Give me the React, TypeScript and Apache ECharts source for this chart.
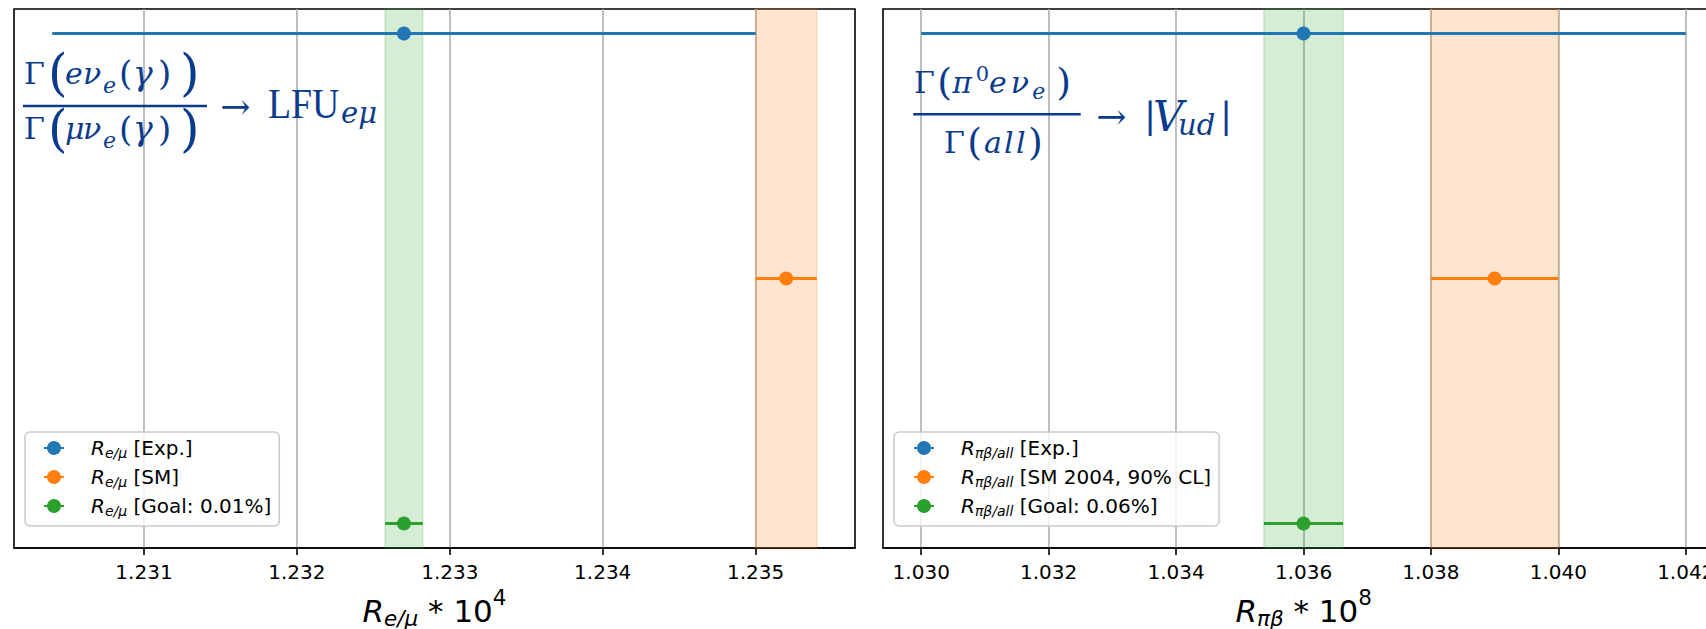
import React, { useEffect, useRef } from 'react';
import * as echarts from 'echarts';

// ---------- data ----------
const rowY = [2, 1, 0];
const seriesColors = ['#1f77b4', '#ff7f0e', '#2ca02c'];

const leftLabels = ['Exp.', 'SM', 'Goal: 0.01%'];
const leftCenters = [1.2327, 1.2352, 1.2327];
const leftErrors = [0.0023, 0.0002, 0.000123];
const leftTicks = [1.231, 1.232, 1.233, 1.234, 1.235];
const leftSub = 'e/μ';

const rightLabels = ['Exp.', 'SM 2004, 90% CL', 'Goal: 0.06%'];
const rightCenters = [1.036, 1.039, 1.036];
const rightErrors = [0.006, 0.001, 0.000622];
const rightTicks = [1.03, 1.032, 1.034, 1.036, 1.038, 1.04, 1.042];
const rightSub = 'πβ/all';

// series whose error range is shaded as a vertical band
const bandIndices = [1, 2];

// ---------- formula glyphs (text annotations) ----------
type Glyph = [string, string, number];
const leftNum: Glyph[] = [['Γ', 'up', 24], ['(', 'big', 17], ['e', 'it', 18], ['ν', 'it', 20], ['e', 'sub', 16], ['(', 'pin', 14], ['γ', 'itg', 25], [')', 'pin', 22], [')', 'big', 18]];
const leftDen: Glyph[] = [['Γ', 'up', 24], ['(', 'big', 17], ['μ', 'it', 18], ['ν', 'it', 20], ['e', 'sub', 16], ['(', 'pin', 14], ['γ', 'itg', 25], [')', 'pin', 22], [')', 'big', 18]];
const rightNum: Glyph[] = [['Γ', 'up', 23.3], ['(', 'par', 15], ['π', 'it', 23.4], ['0', 'sup', 13.3], ['e', 'it', 21.7], ['ν', 'it', 21.6], ['e', 'sub2', 24], [')', 'par', 14]];
const rightDen: Glyph[] = [['Γ', 'up', 23.3], ['(', 'par', 16.7], ['a', 'it', 20], ['l', 'it', 12], ['l', 'it', 12], [')', 'par', 12]];

const SERIF = 'DejaVu Serif';
const SANS = 'DejaVu Sans';
const NAVY = '#0b3b8c';

const glyphKinds: Record<string, any> = {
  up: { fontFamily: SERIF, fontSize: 30, lineHeight: 36, verticalAlign: 'middle' },
  it: { fontFamily: SERIF, fontSize: 30, fontStyle: 'italic', lineHeight: 36, verticalAlign: 'middle' },
  itg: { fontFamily: SERIF, fontSize: 33, fontStyle: 'italic', lineHeight: 36, verticalAlign: 'middle' },
  big: { fontFamily: SERIF, fontSize: 50, lineHeight: 36, verticalAlign: 'middle' },
  par: { fontFamily: SERIF, fontSize: 38, lineHeight: 36, verticalAlign: 'middle' },
  pin: { fontFamily: SERIF, fontSize: 34, lineHeight: 36, verticalAlign: 'middle' },
  sub: { fontFamily: SERIF, fontSize: 22, fontStyle: 'italic', height: 12, verticalAlign: 'bottom' },
  sub2: { fontFamily: SERIF, fontSize: 22, fontStyle: 'italic', height: 18, verticalAlign: 'bottom' },
  sup: { fontFamily: SERIF, fontSize: 21, height: 20, verticalAlign: 'top' },
};

function buildRich(glyphs: Glyph[]) {
  const rich: Record<string, any> = {};
  let text = '';
  glyphs.forEach(([t, kind, w], k) => {
    const name = 'g' + k;
    rich[name] = { ...glyphKinds[kind], width: w, align: 'left' };
    text += `{${name}|${t}}`;
  });
  return { text, rich };
}

function panel(idx: number, centers: number[], errors: number[], labels: string[], sub: string) {
  const lo = Math.min(...centers.map((c, i) => c - errors[i]));
  const hi = Math.max(...centers.map((c, i) => c + errors[i]));
  const pad = (hi - lo) * 0.05;
  const names = labels.map((l) => `R_${sub} [${l}]`);
  const series = centers.map((c, i) => {
    const e = errors[i];
    const y = rowY[i];
    const col = seriesColors[i];
    const s: any = {
      type: 'line',
      name: names[i],
      xAxisIndex: idx,
      yAxisIndex: idx,
      data: [
        { value: [c - e, y], symbol: 'none' },
        { value: [c, y] },
        { value: [c + e, y], symbol: 'none' },
      ],
      symbol: 'circle',
      symbolSize: 14,
      showSymbol: true,
      showAllSymbol: true,
      color: col,
      lineStyle: { width: 3, color: col },
      itemStyle: { color: col },
      emphasis: { disabled: true },
      z: 5,
    };
    if (bandIndices.includes(i)) {
      s.markArea = {
        silent: true,
        label: { show: false },
        itemStyle: { color: col, opacity: 0.2, borderColor: col, borderWidth: 1.5 },
        data: [[{ xAxis: c - e }, { xAxis: c + e }]],
      };
    }
    return s;
  });
  return { min: lo - pad, max: hi + pad, series, names };
}

function xAxisFor(idx: number, min: number, max: number, ticks: number[]) {
  return {
    type: 'value',
    gridIndex: idx,
    min,
    max,
    axisLine: { show: true, onZero: false, lineStyle: { color: '#000', width: 1.6 } },
    axisTick: { show: true, length: 7, lineStyle: { color: '#000', width: 1.6 }, customValues: ticks },
    axisLabel: {
      customValues: ticks,
      formatter: (v: number) => v.toFixed(3),
      fontSize: 20,
      fontFamily: SANS,
      color: '#000',
      margin: 14,
    },
    splitLine: { show: true, lineStyle: { color: '#b0b0b0', width: 1.6 } },
  };
}

function legendFor(names: string[], left: number, padLeft: number) {
  return {
    data: names,
    left,
    top: 432,
    orient: 'vertical',
    itemWidth: 20,
    itemHeight: 17.5,
    itemGap: 7,
    padding: [6, 8, 8, padLeft],
    backgroundColor: 'rgba(255,255,255,0.8)',
    borderColor: '#cccccc',
    borderWidth: 1.6,
    borderRadius: 5,
    selectedMode: false,
    formatter: (name: string) => {
      const sp = name.indexOf(' ');
      const sub = name.slice(2, sp);
      const rest = name.slice(sp);
      return `{r|R}{s|${sub}}{t|${rest}}`;
    },
    textStyle: {
      fontFamily: SANS,
      fontSize: 20,
      color: '#000',
      rich: {
        r: { fontFamily: SANS, fontStyle: 'italic', fontSize: 20, lineHeight: 26, padding: [0, 0, 0, 22] },
        s: { fontFamily: SANS, fontStyle: 'italic', fontSize: 14, height: 16, verticalAlign: 'bottom' },
        t: { fontFamily: SANS, fontSize: 20, lineHeight: 26 },
      },
    },
  };
}

const xlabRich = {
  r: { fontFamily: SANS, fontStyle: 'italic', fontSize: 31, lineHeight: 34 },
  s: { fontFamily: SANS, fontStyle: 'italic', fontSize: 21.5, height: 20, verticalAlign: 'bottom' },
  n: { fontFamily: SANS, fontSize: 31, lineHeight: 34 },
  p: { fontFamily: SANS, fontSize: 21.5, height: 6, verticalAlign: 'top' },
};

export default function App() {
  const ref = useRef<HTMLDivElement>(null);
  useEffect(() => {
    document.body.style.margin = '0';
    const chart = echarts.init(ref.current!, undefined, { renderer: 'svg' });
    const L = panel(0, leftCenters, leftErrors, leftLabels, leftSub);
    const R = panel(1, rightCenters, rightErrors, rightLabels, rightSub);

    const txt = (x: number, y: number, style: any, extra: any = {}) => ({
      type: 'text',
      x,
      y,
      z: 100,
      style: { fill: NAVY, verticalAlign: 'middle', align: 'left', fontFamily: SERIF, fontSize: 30, ...style },
      ...extra,
    });

    const graphic: any[] = [
      // left formula
      txt(24, 73, buildRich(leftNum)),
      { type: 'line', z: 100, shape: { x1: 23, y1: 106, x2: 207, y2: 106 }, style: { stroke: NAVY, lineWidth: 2.6 } },
      txt(24, 128.5, buildRich(leftDen)),
      txt(235.3, 106.7, { text: '→', fontSize: 36, align: 'center' }),
      txt(268, 104, { text: 'LFU', fontFamily: 'Liberation Serif', fontSize: 42 }, { scaleX: 0.9 }),
      txt(341, 113, { text: 'eμ', fontStyle: 'italic', fontSize: 29 }),
      // right formula
      txt(914, 82, buildRich(rightNum)),
      { type: 'line', z: 100, shape: { x1: 913.3, y1: 114.3, x2: 1080.7, y2: 114.3 }, style: { stroke: NAVY, lineWidth: 2.6 } },
      txt(944, 142, buildRich(rightDen)),
      txt(1111.3, 116, { text: '→', fontSize: 36, align: 'center' }),
      txt(1144, 115, { text: '|', fontSize: 36 }),
      txt(1153, 116.7, { text: 'V', fontStyle: 'italic', fontSize: 42 }),
      txt(1178, 125, { text: 'ud', fontStyle: 'italic', fontSize: 29 }),
      txt(1220, 115, { text: '|', fontSize: 36 }),
      // x labels
      {
        type: 'text', x: 434.5, y: 611, z: 100,
        style: { text: `{r|R}{s|${leftSub}}{n| * 10}{p|4}`, rich: xlabRich, fill: '#000', align: 'center', verticalAlign: 'middle', fontFamily: SANS, fontSize: 31 },
      },
      {
        type: 'text', x: 1303.7, y: 611, z: 100,
        style: { text: `{r|R}{s|πβ}{n| * 10}{p|8}`, rich: xlabRich, fill: '#000', align: 'center', verticalAlign: 'middle', fontFamily: SANS, fontSize: 31 },
      },
    ];

    chart.setOption({
      animation: false,
      grid: [
        { left: 14, top: 9, width: 841, height: 539, show: true, borderColor: '#000', borderWidth: 1.6, backgroundColor: 'transparent' },
        { left: 883, top: 9, width: 841, height: 539, show: true, borderColor: '#000', borderWidth: 1.6, backgroundColor: 'transparent' },
      ],
      xAxis: [xAxisFor(0, L.min, L.max, leftTicks), xAxisFor(1, R.min, R.max, rightTicks)],
      yAxis: [
        { type: 'value', gridIndex: 0, min: -0.1, max: 2.1, show: false },
        { type: 'value', gridIndex: 1, min: -0.1, max: 2.1, show: false },
      ],
      legend: [legendFor(L.names, 25, 18), legendFor(R.names, 894, 19)],
      series: [...L.series, ...R.series],
      graphic,
    });
    return () => chart.dispose();
  }, []);
  return (
    <div style={{ width: 1706, height: 629, overflow: 'hidden', position: 'relative' }}>
      <div ref={ref} style={{ width: 1740, height: 629 }} />
    </div>
  );
}
